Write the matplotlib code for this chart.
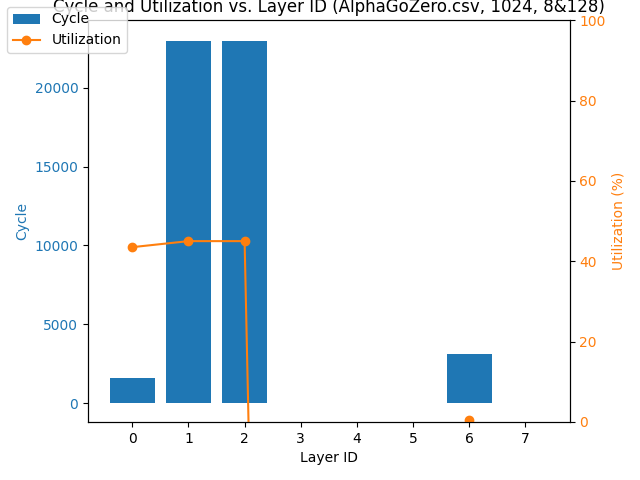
import matplotlib
matplotlib.use("Agg")
import matplotlib.pyplot as plt
import numpy as np

layers = [0, 1, 2, 3, 4, 5, 6, 7]
cycles = [1600, 23000, 23000, 0, 0, 0, 3100, 0]
util = [43.5, 45.0, 45.0, -600, -600, -600, 0.5, np.nan]

fig, ax1 = plt.subplots(figsize=(6.4, 4.8), dpi=100)
ax1.bar(layers, cycles, color="tab:blue", label="Cycle")
ax1.set_xlabel("Layer ID")
ax1.set_ylabel("Cycle", color="tab:blue")
ax1.tick_params(axis="y", labelcolor="tab:blue")
ax1.set_ylim(-1200, 24300)
ax2 = ax1.twinx()
ax2.plot(layers, util, color="tab:orange", marker="o", label="Utilization")
ax2.set_ylabel("Utilization (%)", color="tab:orange")
ax2.tick_params(axis="y", labelcolor="tab:orange")
ax2.set_ylim(0, 100)
plt.title("Cycle and Utilization vs. Layer ID (AlphaGoZero.csv, 1024, 8&128)")
fig.legend(loc="upper left")
fig.subplots_adjust(left=0.1375, right=0.89, top=0.958, bottom=0.121)
fig.savefig("out.png")
